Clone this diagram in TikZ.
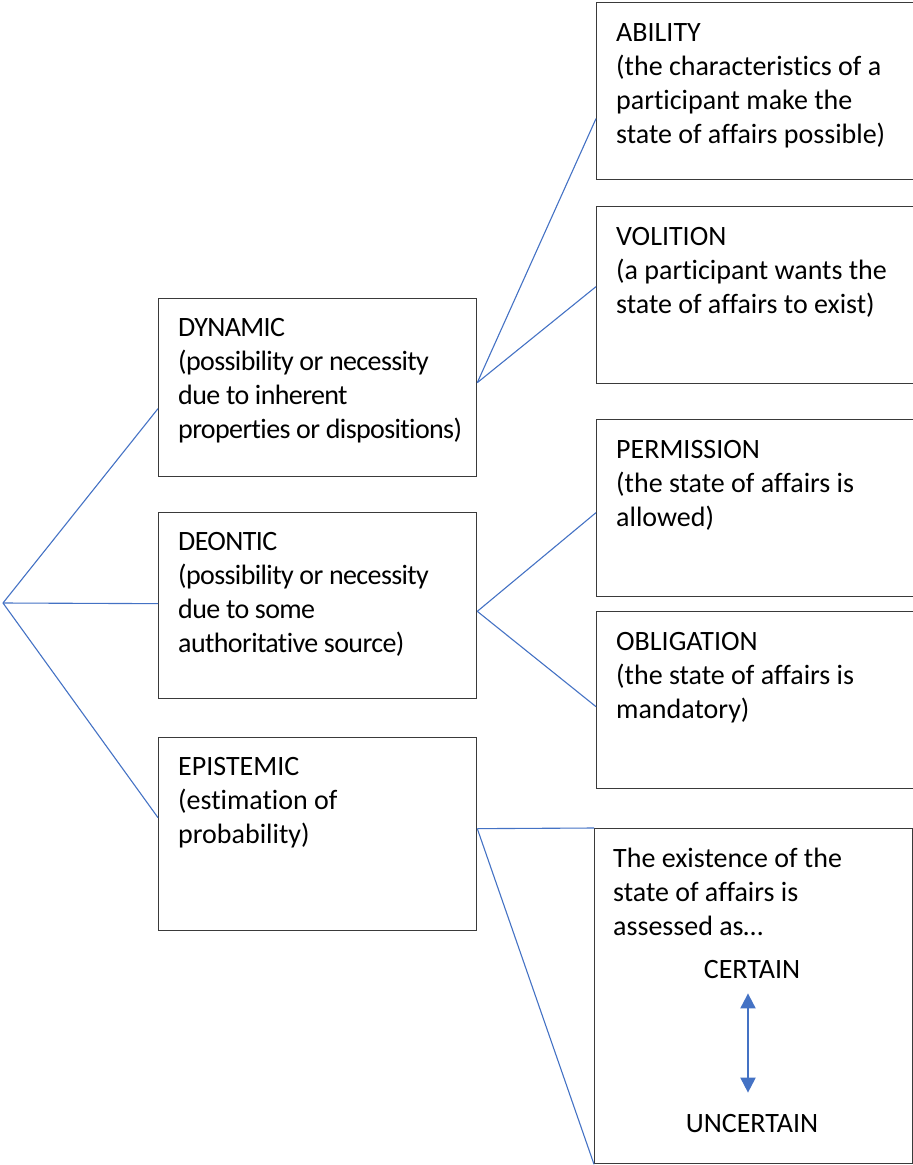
\documentclass[tikz,border=0pt]{standalone}
\usepackage{fontspec}
\setmainfont{Carlito}[Ligatures=NoCommon]
\usetikzlibrary{positioning,arrows.meta}
\definecolor{linkblue}{HTML}{4472C4}
\definecolor{boxgray}{HTML}{3A3A3A}

\begin{document}
\begin{tikzpicture}[x=1pt, y=-1pt,
	box/.style={draw=boxgray, line width=1.3pt, anchor=north west, minimum width=318pt, inner sep=0pt},
	wide/.style={box, minimum width=340pt},
	txt/.style={anchor=north west, align=left, inner sep=0pt, font=\fontsize{28}{34}\selectfont},
	narrow/.style={txt, font=\fontsize{28}{34}\selectfont\addfontfeatures{LetterSpace=-2.2}},
	lbl/.style={inner sep=0pt, font=\fontsize{28}{34}\selectfont},
	link/.style={draw=linkblue, line width=1.1pt},
	tip/.tip={Triangle[width=15pt, length=15pt]}]
	\useasboundingbox (0,0) rectangle (913,1165);

	% boxes, left column
	\node [box, minimum height=178pt] (dyn) at (158,298) {};
	\node [box, minimum height=186pt] (deo) at (158,512) {};
	\node [box, minimum height=193pt] (epi) at (158,737) {};
	% boxes, right column
	\node [wide, minimum height=177pt] (abi) at (596,2)   {};
	\node [wide, minimum height=177pt] (vol) at (596,206) {};
	\node [wide, minimum height=177pt] (per) at (596,419) {};
	\node [wide, minimum height=177pt] (obl) at (596,611) {};
	\node [box,  minimum height=335pt] (ass) at (594,828) {};

	% texts
	\node [narrow, below right=20pt and 20pt of dyn.north west] (dynT) {DYNAMIC\\(possibility or necessity\\due to inherent\\properties or dispositions)};
	\node [narrow, below right=20pt and 20pt of deo.north west] (deoT) {DEONTIC\\(possibility or necessity\\due to some\\authoritative source)};
	\node [txt, below right=20pt and 20pt of epi.north west] (epiT) {EPISTEMIC\\(estimation of\\probability)};
	\node [txt, below right=21pt and 20pt of abi.north west] (abiT) {ABILITY\\(the characteristics of a\\participant make the\\state of affairs possible)};
	\node [txt, below right=21pt and 20pt of vol.north west] (volT) {VOLITION\\(a participant wants the\\state of affairs to exist)};
	\node [txt, below right=21pt and 20pt of per.north west] (perT) {PERMISSION\\(the state of affairs is\\allowed)};
	\node [txt, below right=21pt and 20pt of obl.north west] (oblT) {OBLIGATION\\(the state of affairs is\\mandatory)};
	\node [txt, below right=20pt and 19pt of ass.north west] (assT) {The existence of the\\state of affairs is\\assessed as…};
	\node [lbl, anchor=base] (cert) at (752,978)  {CERTAIN};
	\node [lbl, anchor=base] (unc)  at (752,1132) {UNCERTAIN};

	% connectors
	\coordinate (root) at (3,603);
	\path[link] (root) edge ([yshift=-21pt]dyn.west);
	\path[link] (root) edge ([yshift=2pt]deo.west);
	\path[link] (root) edge ([yshift=16.5pt]epi.west);
	\path[link] ([yshift=5pt]dyn.east) edge ([yshift=-27.5pt]abi.west);
	\path[link] ([yshift=5pt]dyn.east) edge ([yshift=8.5pt]vol.west);
	\path[link] ([yshift=-5.7pt]deo.east) edge ([yshift=-4.5pt]per.west);
	\path[link] ([yshift=-5.7pt]deo.east) edge ([yshift=-6.5pt]obl.west);
	\path[link] ([yshift=5.5pt]epi.east) edge (ass.north west);
	\path[link] ([yshift=5.5pt]epi.east) edge (ass.south west);
	\draw[link, line width=2pt, tip-tip, shorten <=15pt, shorten >=21pt] ([xshift=-4pt]cert.south) -- ([xshift=-4pt]unc.north);
\end{tikzpicture}
\end{document}
